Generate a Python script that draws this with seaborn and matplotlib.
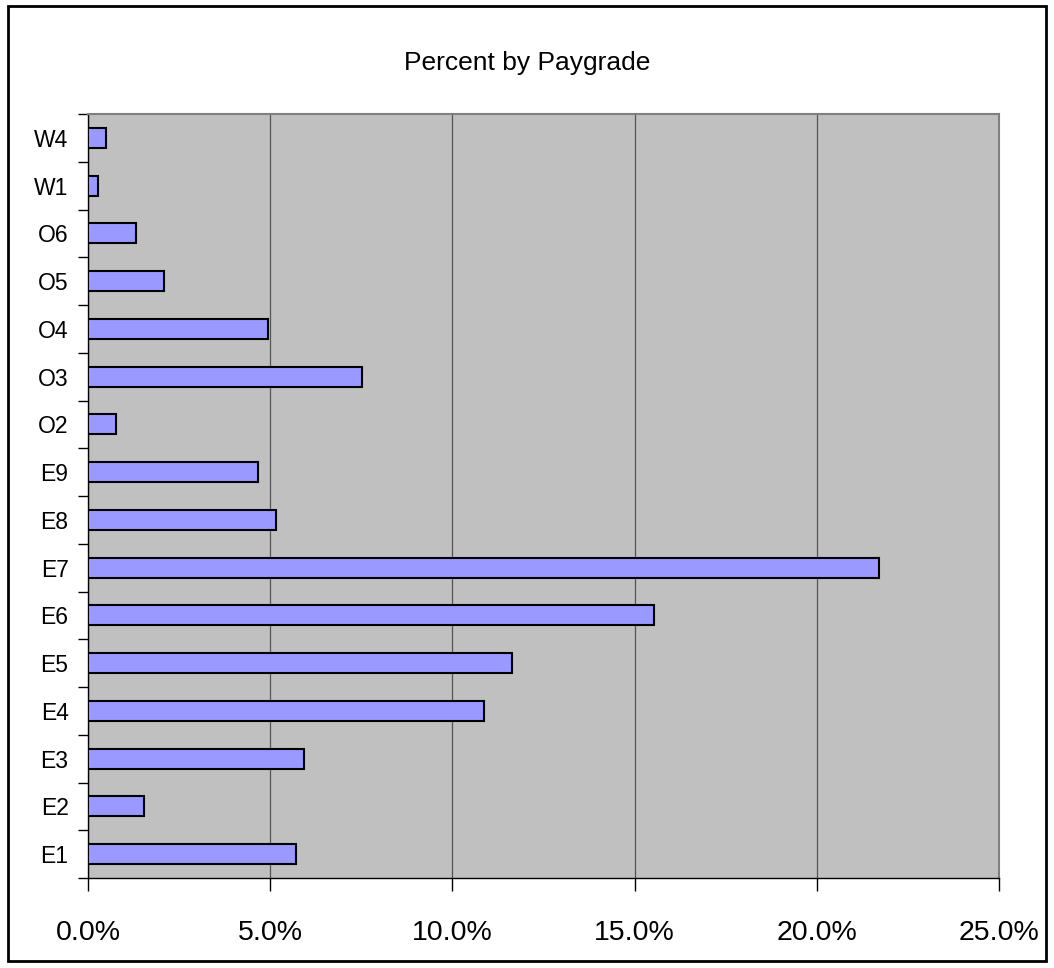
import matplotlib
matplotlib.use("Agg")
import matplotlib.pyplot as plt
import seaborn as sns
import numpy as np
from matplotlib.ticker import FixedLocator, PercentFormatter
from matplotlib.patches import Rectangle

# Data (percent by paygrade, bottom to top as in the chart)
grades = ["E1", "E2", "E3", "E4", "E5", "E6", "E7", "E8", "E9",
          "O2", "O3", "O4", "O5", "O6", "W1", "W4"]
percent = [5.71, 1.54, 5.93, 10.87, 11.64, 15.53, 21.72, 5.16, 4.67,
           0.77, 7.52, 4.94, 2.09, 1.32, 0.27, 0.49]
xticks = [0, 5, 10, 15, 20, 25]

sns.set_style("white")
plt.rcParams['font.family'] = ['Liberation Sans', 'DejaVu Sans']
plt.rcParams['text.color'] = 'black'
plt.rcParams['xtick.color'] = 'black'
plt.rcParams['ytick.color'] = 'black'

fig = plt.figure(figsize=(10.54, 9.68), dpi=100)
ax = fig.add_axes([88 / 1054, 1 - 878 / 968, (999 - 88) / 1054, (878 - 114) / 968])

# seaborn puts the first category on top, so pass the reversed order
sns.barplot(x=percent, y=grades, order=grades[::-1], orient="h",
            color="#9999FF", saturation=1, edgecolor="black",
            linewidth=1.5, width=0.42, ax=ax, zorder=3)

ax.set_facecolor("#C0C0C0")
ax.set_xlim(0, 25)
ax.set_ylim(len(grades) - 0.5, -0.5)
ax.set_xticks(xticks)
ax.xaxis.set_major_formatter(PercentFormatter(decimals=1))
ax.grid(axis="x", color="#555555", linewidth=0.9, zorder=0)
ax.set_axisbelow(True)

# labels centered on categories, tick marks at category boundaries
ax.tick_params(axis="y", which="major", length=0, pad=14, labelsize=16.5,
               labelcolor="black")
ax.yaxis.set_minor_locator(FixedLocator(np.arange(-0.5, len(grades), 1)))
ax.tick_params(axis="y", which="minor", left=True, length=7, width=1, color="black")
ax.tick_params(axis="x", which="major", bottom=True, length=9, width=1,
               color="black", pad=21, labelsize=20.5, labelcolor="black")

for side in ["left", "bottom"]:
    ax.spines[side].set_color("black")
    ax.spines[side].set_linewidth(1)
for side in ["top", "right"]:
    ax.spines[side].set_color("#808080")
    ax.spines[side].set_linewidth(1.5)

ax.set_xlabel("")
ax.set_ylabel("")
fig.text(0.5, 1 - 63 / 968, "Percent by Paygrade", ha="center", va="center",
         fontsize=19, color="black")

# outer chart border
fig.patches.append(Rectangle((8 / 1054, 1 - 961 / 968), (1046 - 8) / 1054,
                             (961 - 6) / 968, transform=fig.transFigure,
                             fill=False, edgecolor="black", linewidth=2))

fig.savefig("out.png", dpi=100, facecolor="white")
